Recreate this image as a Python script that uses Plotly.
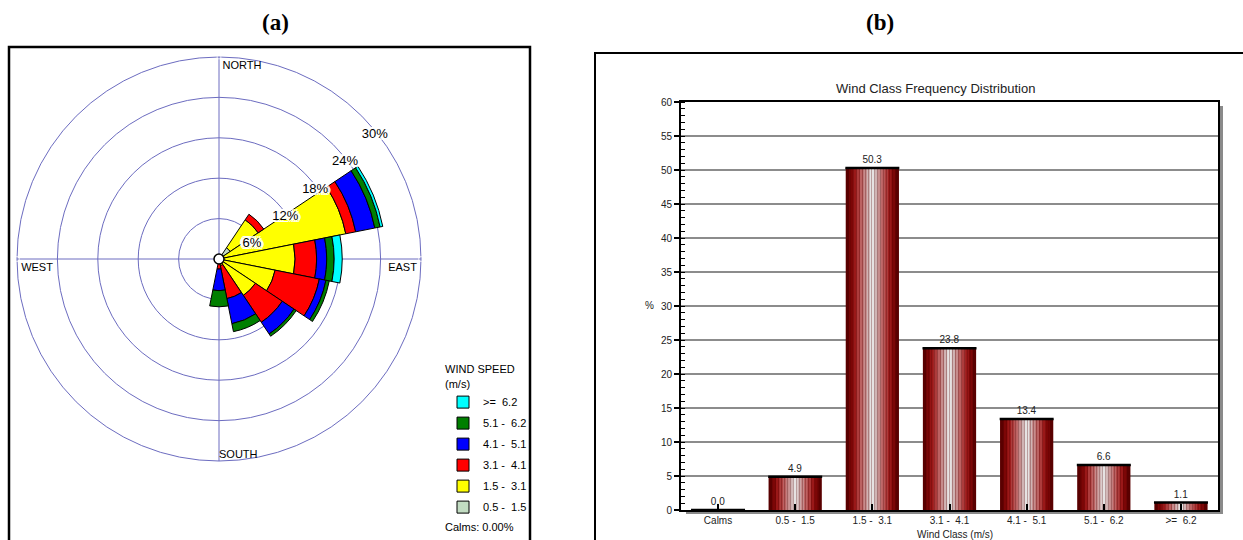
import plotly.graph_objects as go

# ---------------- data: wind rose (percent of time per direction & speed class)
directions = [0, 22.5, 45, 67.5, 90, 112.5, 135, 157.5, 180, 202.5, 225, 247.5, 270, 292.5, 315, 337.5]
rose_classes = ["0.5 -  1.5", "1.5 -  3.1", "3.1 -  4.1", "4.1 -  5.1", "5.1 -  6.2", ">=  6.2"]
rose_colors = ["#c2dcc2", "#ffff00", "#ff0000", "#0000ff", "#007f00", "#00ffff"]
ws_05_15 = [0, 0, 2.0, 0, 0, 0, 0, 0, 0, 0, 0, 0, 0, 0, 0, 0]
ws_15_31 = [0, 0, 5.0, 19.2, 11.3, 8.5, 6.5, 1.0, 0.3, 0, 0, 0, 0, 0, 0, 0]
ws_31_41 = [0, 0, 1.0, 1.5, 3.2, 6.7, 4.8, 5.0, 1.2, 0, 0, 0, 0, 0, 0, 0]
ws_41_51 = [0, 0, 0, 2.9, 1.5, 1.0, 2.1, 3.8, 3.2, 0, 0, 0, 0, 0, 0, 0]
ws_51_62 = [0, 0, 0, 0.8, 1.1, 0.5, 0.4, 1.2, 2.4, 0, 0, 0, 0, 0, 0, 0]
ws_62_up = [0, 0, 0, 0.4, 1.2, 0, 0, 0, 0, 0, 0, 0, 0, 0, 0, 0]
rose_series = [ws_05_15, ws_15_31, ws_31_41, ws_41_51, ws_51_62, ws_62_up]

ring_values = [6, 12, 18, 24, 30]
ring_labels = ["6%", "12%", "18%", "24%", "30%"]
compass_theta = [0, 90, 180, 270]
compass_names = ["NORTH", "EAST", "SOUTH", "WEST"]
compass_pos = ["bottom right", "bottom left", "top right", "bottom right"]

# ---------------- data: wind class frequency distribution
wind_classes = ["Calms", "0.5 -  1.5", "1.5 -  3.1", "3.1 -  4.1", "4.1 -  5.1", "5.1 -  6.2", ">=  6.2"]
class_freq = [0.0, 4.9, 50.3, 23.8, 13.4, 6.6, 1.1]

W, H = 1243, 540
GRID = "#6c6cc0"
FONT = "Liberation Sans, Arial, sans-serif"
LABEL_INSET = 1.25   # ring labels sit just inside their ring

fig = go.Figure()

# ---- wind rose petals (legend shows the fastest class on top)
n_cls = len(rose_classes)
for i, (name, col, vals) in enumerate(zip(rose_classes, rose_colors, rose_series)):
    fig.add_trace(go.Barpolar(
        r=vals, theta=directions, width=[22.5] * len(directions),
        name=name, marker=dict(color=col, line=dict(color="black", width=1)),
        legendgroup=name, legendrank=n_cls - i, subplot="polar"))

# calm circle at the centre
fig.add_trace(go.Scatterpolar(r=[0], theta=[0], mode="markers", showlegend=False,
                              marker=dict(size=10, color="white", line=dict(color="black", width=1.5)),
                              cliponaxis=False, subplot="polar"))
# ring labels
fig.add_trace(go.Scatterpolar(r=[v - LABEL_INSET for v in ring_values], theta=[47.5] * len(ring_values),
                              mode="text", text=ring_labels, textposition="bottom right", showlegend=False,
                              textfont=dict(size=13, color="black", family=FONT,
                                            shadow="2px 0 0 #fff, -2px 0 0 #fff, 0 2px 0 #fff, 0 -2px 0 #fff, 2px 2px 0 #fff, -2px -2px 0 #fff, 2px -2px 0 #fff, -2px 2px 0 #fff, 3px 0 0 #fff, -3px 0 0 #fff"),
                              cliponaxis=False, subplot="polar"))
# compass labels
fig.add_trace(go.Scatterpolar(r=[30] * 4, theta=compass_theta, mode="markers+text", text=compass_names,
                              textposition=compass_pos, showlegend=False,
                              marker=dict(size=[4, 5, 0, 5], color="rgba(0,0,0,0)"),
                              textfont=dict(size=11, color="black", family=FONT),
                              cliponaxis=False, subplot="polar", hoverinfo="skip"))

# ---- frequency bars: layered for a cylinder-like shading
layer_widths = [0.69, 0.6, 0.5, 0.41, 0.32, 0.23, 0.14, 0.06]
layer_colors = ["#5a0000", "#7c0606", "#9a1818", "#ad3c3c", "#bc6262", "#c68c8c", "#d0b4b4", "#e6e2e2"]
for i, (wd, col) in enumerate(zip(layer_widths, layer_colors)):
    kw = {}
    if i == 0:
        kw = dict(text=[f"{v:.1f}" for v in class_freq], textposition="outside",
                  textfont=dict(size=10, color="#222", family=FONT), cliponaxis=False)
    if i == len(layer_widths) - 1:
        kw["error_y"] = dict(type="data", array=[0] * len(class_freq), width=27, thickness=2.5, color="black")
    fig.add_trace(go.Bar(
        x=wind_classes, y=class_freq, width=wd, showlegend=False,
        marker=dict(color=col, line=dict(width=0),
                    pattern=dict(shape="|", fillmode="overlay", fgcolor="rgba(80,0,0,0.6)", size=3, solidity=0.35)),
        xaxis="x", yaxis="y", hoverinfo="skip", **kw))

px = lambda v: v / W
py = lambda v: 1 - v / H

shapes = [
    # panel frames
    dict(type="rect", xref="paper", yref="paper", x0=px(9), x1=px(530), y0=py(560), y1=py(47),
         line=dict(color="black", width=2.5), layer="above"),
    dict(type="rect", xref="paper", yref="paper", x0=px(595), x1=px(1265), y0=py(560), y1=py(53),
         line=dict(color="black", width=2), layer="above"),
    # plot-area shadow
    dict(type="rect", xref="paper", yref="paper", x0=px(1219), x1=px(1223), y0=py(514), y1=py(106),
         fillcolor="#8a8a8a", line=dict(width=0), layer="below"),
    dict(type="rect", xref="paper", yref="paper", x0=px(686), x1=px(1223), y0=py(514), y1=py(511),
         fillcolor="#8a8a8a", line=dict(width=0), layer="below"),
]

annotations = [
    dict(text="<b>(a)</b>", x=px(275), y=py(22), xref="paper", yref="paper", showarrow=False,
         xanchor="center", yanchor="middle",
         font=dict(family="Liberation Serif, Times New Roman, serif", size=23, color="black")),
    dict(text="<b>(b)</b>", x=px(880), y=py(22), xref="paper", yref="paper", showarrow=False,
         xanchor="center", yanchor="middle",
         font=dict(family="Liberation Serif, Times New Roman, serif", size=23, color="black")),
    dict(text="Calms: 0.00%", x=px(443), y=py(527), xref="paper", yref="paper", showarrow=False,
         xanchor="left", yanchor="middle", font=dict(family=FONT, size=11, color="black")),
    dict(text="Wind Class Frequency Distribution", x=px(936), y=py(89), xref="paper", yref="paper",
         showarrow=False, xanchor="center", yanchor="middle", font=dict(family=FONT, size=13, color="#222")),
    dict(text="%", x=px(649), y=py(305), xref="paper", yref="paper", showarrow=False,
         xanchor="center", yanchor="middle", font=dict(family=FONT, size=10, color="#222")),
    dict(text="Wind Class (m/s)", x=px(955), y=py(534), xref="paper", yref="paper", showarrow=False,
         xanchor="center", yanchor="middle", font=dict(family=FONT, size=10, color="#222")),
]

fig.update_layout(
    width=W, height=H, margin=dict(l=0, r=0, t=0, b=0, autoexpand=False),
    paper_bgcolor="white", plot_bgcolor="white",
    font=dict(family=FONT, color="black"),
    barmode="overlay",
    polar=dict(
        domain=dict(x=[px(17), px(421)], y=[py(461), py(57)]),
        bgcolor="white",
        radialaxis=dict(range=[0, 30], tickvals=ring_values, showticklabels=False, ticks="",
                        showline=False, gridcolor=GRID, gridwidth=1, layer="below traces"),
        angularaxis=dict(direction="clockwise", rotation=90, tickvals=compass_theta,
                         showticklabels=False, ticks="", gridcolor=GRID, gridwidth=1,
                         showline=True, linecolor=GRID, linewidth=1, layer="below traces"),
    ),
    xaxis=dict(domain=[px(681), px(1218)], anchor="y", range=[-0.48, 6.48], automargin=False,
               showline=True, linecolor="black", linewidth=2, mirror=True,
               ticks="inside", ticklen=6, tickwidth=1.5, tickcolor="black",
               tickfont=dict(size=10, color="#222"), showgrid=False),
    yaxis=dict(domain=[py(510), py(102)], anchor="x", range=[0, 60], dtick=5, automargin=False,
               showline=True, linecolor="black", linewidth=2, mirror=True,
               ticks="outside", ticklen=5, tickwidth=1.5, tickcolor="black",
               tickfont=dict(size=10, color="#222"),
               showgrid=True, gridcolor="#8c8c8c", gridwidth=1.5, zeroline=False,
               minor=dict(dtick=1, ticks="inside", ticklen=4, tickcolor="black", tickwidth=1, showgrid=False)),
    legend=dict(x=px(443), y=py(359), xanchor="left", yanchor="top", traceorder="grouped",
                bgcolor="rgba(0,0,0,0)", font=dict(size=11, color="black", family=FONT),
                title=dict(text="WIND SPEED<br>(m/s)", font=dict(size=11, color="black")),
                tracegroupgap=2, itemwidth=30),
    shapes=shapes, annotations=annotations,
)

fig.write_html("out.html", config={"displayModeBar": False},
               post_script="document.body.style.margin='0';")
